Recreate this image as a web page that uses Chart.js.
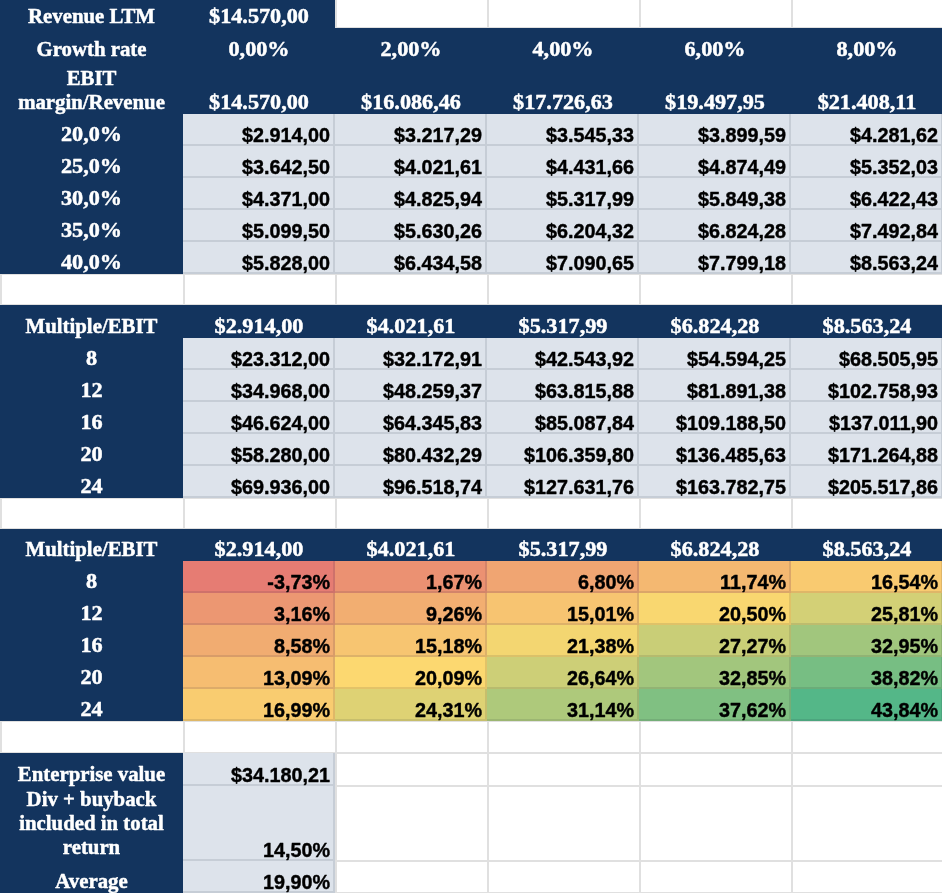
<!DOCTYPE html>
<html>
<head>
<meta charset="utf-8">
<script src="https://cdn.jsdelivr.net/npm/chart.js@4.4.1/dist/chart.umd.min.js"></script>
<style>
  html, body { margin: 0; padding: 0; background: #fff; }
  #wrap { width: 942px; height: 893px; position: relative; }
</style>
</head>
<body>
<div id="wrap"><canvas id="sheet"></canvas></div>
<script>
// ---- values ----
const revenueLTM = 14570.00;
const growthRates = [0, 2, 4, 6, 8];
const projectedRevenue = [14570.00, 16086.46, 17726.63, 19497.95, 21408.11];
const ebitMargins = [20, 25, 30, 35, 40];
const ebitTable = [
    [2914.00, 3217.29, 3545.33, 3899.59, 4281.62],
    [3642.50, 4021.61, 4431.66, 4874.49, 5352.03],
    [4371.00, 4825.94, 5317.99, 5849.38, 6422.43],
    [5099.50, 5630.26, 6204.32, 6824.28, 7492.84],
    [5828.00, 6434.58, 7090.65, 7799.18, 8563.24]
];
const multiples = [8, 12, 16, 20, 24];
const ebitPicks = [2914.00, 4021.61, 5317.99, 6824.28, 8563.24];
const valuations = [
    [23312.00, 32172.91, 42543.92, 54594.25, 68505.95],
    [34968.00, 48259.37, 63815.88, 81891.38, 102758.93],
    [46624.00, 64345.83, 85087.84, 109188.50, 137011.90],
    [58280.00, 80432.29, 106359.80, 136485.63, 171264.88],
    [69936.00, 96518.74, 127631.76, 163782.75, 205517.86]
];
const totalReturns = [
    [-3.73, 1.67, 6.80, 11.74, 16.54],
    [3.16, 9.26, 15.01, 20.50, 25.81],
    [8.58, 15.18, 21.38, 27.27, 32.95],
    [13.09, 20.09, 26.64, 32.85, 38.82],
    [16.99, 24.31, 31.14, 37.62, 43.84]
];
const enterpriseValue = 34180.21;
const divBuyback = 14.50;
const averageReturn = 19.90;

// ---- sheet geometry (column edges and row heights, in sheet units) ----
const colEdges = [0, 183, 335, 487, 639, 791, 943];
const rowHeights = [28, 33, 53, 32, 32, 32, 32, 32, 31, 33, 32, 32, 32, 32, 32, 31, 32, 32, 32, 32, 32, 32, 32, 33, 75, 32];
const rowEdges = [0];
rowHeights.forEach(h => rowEdges.push(rowEdges[rowEdges.length - 1] + h));

const NAVY = '#13345e';
const LIGHT = '#dde3eb';
const GRID = '#e0e0e0';

function money(v) {
    const [i, d] = v.toFixed(2).split('.');
    return '$' + i.replace(/\B(?=(\d{3})+(?!\d))/g, '.') + ',' + d;
}
function pct(v, n) { return v.toFixed(n).replace('.', ',') + '%'; }

// sheets style red / yellow / green colour scale
const flat = totalReturns.flat();
const rMin = Math.min(...flat), rMax = Math.max(...flat), rMid = (rMin + rMax) / 2;
function mix(a, b, t) {
    return 'rgb(' + a.map((c, k) => Math.round(c + (b[k] - c) * t)).join(',') + ')';
}
function heat(v) {
    const lo = [230, 124, 115], mid = [252, 216, 112], hi = [84, 183, 136];
    return v <= rMid ? mix(lo, mid, (v - rMin) / (rMid - rMin)) : mix(mid, hi, (v - rMid) / (rMax - rMid));
}

// ---- build the cell list ----
const cells = [];
function cell(row, col, fill, text, kind) {
    cells.push({ row, col, fill, text, kind });
}
function headRow(row, label, values) {
    cell(row, 0, NAVY, label, 'head');
    values.forEach((v, c) => cell(row, c + 1, NAVY, v, 'head'));
}

cell(0, 0, NAVY, 'Revenue LTM', 'head');
cell(0, 1, NAVY, money(revenueLTM), 'head');
for (let c = 2; c < 6; c++) cell(0, c, null, '', 'blank');
headRow(1, 'Growth rate', growthRates.map(g => pct(g, 2)));
headRow(2, 'EBIT\nmargin/Revenue', projectedRevenue.map(money));
ebitMargins.forEach((m, r) => {
    cell(3 + r, 0, NAVY, pct(m, 1), 'head');
    ebitTable[r].forEach((v, c) => cell(3 + r, c + 1, LIGHT, money(v), 'data'));
});
for (let c = 0; c < 6; c++) cell(8, c, null, '', 'blank');
headRow(9, 'Multiple/EBIT', ebitPicks.map(money));
multiples.forEach((m, r) => {
    cell(10 + r, 0, NAVY, String(m), 'head');
    valuations[r].forEach((v, c) => cell(10 + r, c + 1, LIGHT, money(v), 'data'));
});
for (let c = 0; c < 6; c++) cell(15, c, null, '', 'blank');
headRow(16, 'Multiple/EBIT', ebitPicks.map(money));
multiples.forEach((m, r) => {
    cell(17 + r, 0, NAVY, String(m), 'head');
    totalReturns[r].forEach((v, c) => cell(17 + r, c + 1, heat(v), pct(v, 2), 'data'));
});
for (let c = 0; c < 6; c++) cell(22, c, null, '', 'blank');
const bottomRows = [
    ['Enterprise value', money(enterpriseValue)],
    ['Div + buyback\nincluded in total\nreturn', pct(divBuyback, 2)],
    ['Average', pct(averageReturn, 2)]
];
bottomRows.forEach(([label, val], r) => {
    cell(23 + r, 0, NAVY, label, 'head');
    cell(23 + r, 1, LIGHT, val, 'data');
    for (let c = 2; c < 6; c++) cell(23 + r, c, null, '', 'blank');
});

// ---- draw the sheet through the chart scales ----
const sheetPlugin = {
    id: 'sheet',
    afterDatasetsDraw(chart) {
        const { ctx, scales: { x, y } } = chart;
        const box = cl => ({
            x0: x.getPixelForValue(colEdges[cl.col]),
            x1: x.getPixelForValue(colEdges[cl.col + 1]),
            y0: y.getPixelForValue(rowEdges[cl.row]),
            y1: y.getPixelForValue(rowEdges[cl.row + 1])
        });
        ctx.save();
        // gridlines on blank cells (left, right and bottom edges)
        ctx.fillStyle = GRID;
        cells.filter(cl => cl.kind === 'blank').forEach(cl => {
            const b = box(cl);
            ctx.fillRect(b.x0, b.y0, 2, b.y1 - b.y0);
            ctx.fillRect(b.x1, b.y0, 2, b.y1 - b.y0);
            ctx.fillRect(b.x0, b.y1 - 1, b.x1 - b.x0 + 2, 2);
            if (cl.row > 0) ctx.fillRect(b.x0, b.y0 - 1, b.x1 - b.x0 + 2, 2);
        });
        // fills
        cells.filter(cl => cl.fill).forEach(cl => {
            const b = box(cl);
            ctx.fillStyle = cl.fill;
            ctx.fillRect(b.x0, b.y0, b.x1 - b.x0, b.y1 - b.y0);
        });
        // borders inside coloured data cells
        ctx.fillStyle = 'rgba(20,30,50,0.11)';
        cells.filter(cl => cl.kind === 'data').forEach(cl => {
            const b = box(cl);
            ctx.fillRect(b.x1 - 2, b.y0, 2, b.y1 - b.y0 - 2);
            ctx.fillRect(b.x0, b.y1 - 2, b.x1 - b.x0, 2);
        });
        // texts, bottom aligned like the sheet
        ctx.textBaseline = 'alphabetic';
        ctx.lineJoin = 'round';
        cells.filter(cl => cl.text).forEach(cl => {
            const b = box(cl);
            const lines = cl.text.split('\n');
            if (cl.kind === 'head') {
                ctx.font = 'bold 20px "Liberation Serif", "Times New Roman", serif';
                ctx.fillStyle = '#ffffff';
                ctx.strokeStyle = '#ffffff';
                ctx.lineWidth = 0.45;
                ctx.textAlign = 'center';
                const cx = (b.x0 + b.x1) / 2;
                const base = b.y1 - (lines.length > 2 ? 7 : 5);
                lines.forEach((ln, i) => {
                    const numeric = /^[\$\d]/.test(ln);
                    ctx.save();
                    ctx.translate(cx, base - (lines.length - 1 - i) * 24);
                    ctx.scale(numeric ? 1.11 : 1.04, 1);
                    ctx.fillText(ln, 0, 0);
                    ctx.strokeText(ln, 0, 0);
                    ctx.restore();
                });
            } else {
                ctx.font = 'bold 19.8px "Liberation Sans", Arial, sans-serif';
                ctx.fillStyle = '#000000';
                ctx.strokeStyle = '#000000';
                ctx.lineWidth = 0.4;
                ctx.textAlign = 'right';
                ctx.fillText(cl.text, b.x1 - 5, b.y1 - 4.5);
                ctx.strokeText(cl.text, b.x1 - 5, b.y1 - 4.5);
            }
        });
        ctx.restore();
    }
};

new Chart(document.getElementById('sheet'), {
    type: 'scatter',
    data: { datasets: [{ data: [] }] },
    options: {
        responsive: true,
        maintainAspectRatio: false,
        animation: false,
        layout: { padding: 0 },
        plugins: { legend: { display: false }, tooltip: { enabled: false } },
        scales: {
            x: { type: 'linear', min: 0, max: 942, display: false },
            y: { type: 'linear', min: 0, max: 893, reverse: true, display: false }
        }
    },
    plugins: [sheetPlugin]
});
</script>
</body>
</html>
